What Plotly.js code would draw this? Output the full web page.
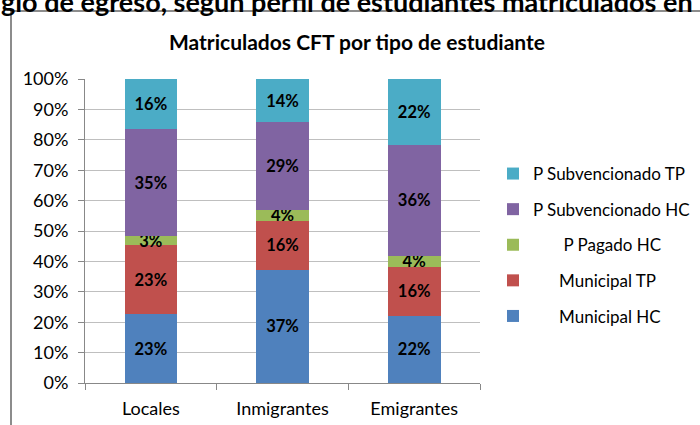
<!DOCTYPE html>
<html>
<head>
<meta charset="utf-8">
<script src="https://cdn.plot.ly/plotly-3.0.1.min.js"></script>
<style>html,body{margin:0;padding:0;background:#fff;}#chart{width:700px;height:425px;}</style>
</head>
<body>
<div id="chart"></div>
<script>
// ---- data ----
var categories = ['Locales', 'Inmigrantes', 'Emigrantes'];
var seriesNames = ['Municipal HC', 'Municipal TP', 'P Pagado HC', 'P Subvencionado HC', 'P Subvencionado TP'];
var municipalHC = [22.6, 37.3, 22.1];
var municipalTP = [22.8, 16.0, 16.1];
var pPagadoHC = [2.8, 3.7, 3.7];
var pSubvencionadoHC = [35.4, 28.8, 36.4];
var pSubvencionadoTP = [16.4, 14.2, 21.7];
var yTickVals = [0, 10, 20, 30, 40, 50, 60, 70, 80, 90, 100];
var yTickText = ['0%', '10%', '20%', '30%', '40%', '50%', '60%', '70%', '80%', '90%', '100%'];
var chartTitle = 'Matriculados CFT por tipo de estudiante';
var pageHeading = 'gio de egreso, según perfil de estudiantes matriculados en';

// ---- styling ----
var seriesValues = [municipalHC, municipalTP, pPagadoHC, pSubvencionadoHC, pSubvencionadoTP];
var colors = ['#4F81BD', '#C0504D', '#9BBB59', '#8064A2', '#4BACC6'];
var legendPad = ['\u00a0\u00a0\u00a0\u00a0\u00a0\u00a0', '\u00a0\u00a0\u00a0\u00a0\u00a0\u00a0', '\u00a0\u00a0\u00a0\u00a0\u00a0\u00a0\u00a0', '', ''];
var FONT = 'Lato, "Open Sans", sans-serif';

var W = 700, H = 425;
var L = 85, R = 480, T = 79, B = 383;
function px(x) { return (x - L) / (R - L); }
function py(y) { return (B - y) / (B - T); }

var traces = seriesValues.map(function (vals, i) {
  return {
    type: 'bar',
    name: legendPad[i] + seriesNames[i],
    x: categories,
    y: vals,
    legendgroup: 'g' + i,
    legendrank: 10 - i,
    marker: { color: colors[i], line: { width: 0 } },
    texttemplate: '%{y:.0f}%',
    textposition: 'inside',
    insidetextanchor: 'middle',
    textangle: 0,
    constraintext: 'none',
    textfont: { family: FONT, size: 16.5, color: '#000', weight: 'bold' },
    hoverinfo: 'skip'
  };
});

var layout = {
  width: W, height: H,
  margin: { l: L, r: W - R, t: T, b: H - B, pad: 0, autoexpand: false },
  paper_bgcolor: '#fff',
  plot_bgcolor: '#fff',
  barmode: 'stack',
  bargap: 0.6,
  showlegend: true,
  font: { family: FONT, size: 17.5, color: '#000' },
  title: {
    text: chartTitle,
    x: 357 / W, xref: 'container', xanchor: 'center',
    y: 1 - 43 / H, yref: 'container', yanchor: 'middle',
    font: { family: FONT, size: 21, color: '#000', weight: 'bold' }
  },
  xaxis: {
    type: 'category',
    range: [-0.5, 2.5],
    showline: true, linecolor: '#888', linewidth: 1,
    ticks: 'outside', tickson: 'boundaries', ticklen: 6, tickcolor: '#888',
    showgrid: false, zeroline: false,
    tickfont: { family: FONT, size: 18, color: '#000' },
    ticklabelstandoff: 9,
    fixedrange: true
  },
  yaxis: {
    range: [0, 100],
    tickvals: yTickVals, ticktext: yTickText,
    showline: true, linecolor: '#888', linewidth: 1,
    ticks: 'outside', ticklen: 6, tickcolor: '#888',
    showgrid: true, gridcolor: '#bfbfbf', gridwidth: 1,
    zeroline: false,
    tickfont: { family: FONT, size: 18, color: '#000' },
    ticklabelstandoff: 6,
    fixedrange: true
  },
  legend: {
    x: px(493), xanchor: 'left',
    y: py(156), yanchor: 'top',
    traceorder: 'grouped',
    tracegroupgap: 10.5,
    font: { family: FONT, size: 17, color: '#000' },
    bgcolor: 'rgba(0,0,0,0)'
  },
  shapes: [
    { type: 'line', xref: 'paper', yref: 'paper', x0: px(11), x1: px(11), y0: py(11), y1: py(430), line: { color: '#8c8c8c', width: 2 } },
    { type: 'line', xref: 'paper', yref: 'paper', x0: px(11), x1: px(705), y0: py(11), y1: py(11), line: { color: '#8c8c8c', width: 2 } }
  ],
  annotations: [
    {
      text: pageHeading, showarrow: false,
      xref: 'paper', yref: 'paper',
      x: px(-1), xanchor: 'left',
      y: py(1.5), yanchor: 'middle',
      font: { family: FONT, size: 27, color: '#000', weight: 'bold' }
    }
  ]
};

Plotly.newPlot('chart', traces, layout, { displayModeBar: false, staticPlot: true });
</script>
</body>
</html>
